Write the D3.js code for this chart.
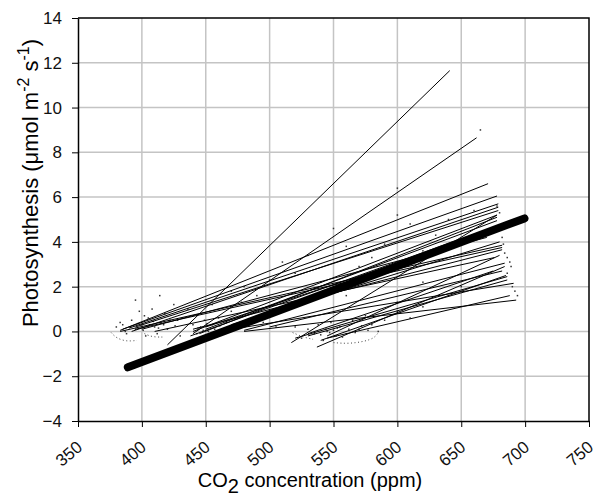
<!DOCTYPE html>
<html>
<head>
<meta charset="utf-8">
<script src="https://cdn.jsdelivr.net/npm/d3@7"></script>
<style>
  body { margin: 0; background: #fff; }
  svg { font-family: Arial, "Liberation Sans", sans-serif; }
  .grid line { stroke: #c4c4c4; stroke-width: 1.5; }
  .axis text { font-size: 17px; fill: #111; }
  .axis path, .axis line { stroke: #000; }
</style>
</head>
<body>
<div id="chart"></div>
<script>
'use strict'

// x ticks / y ticks
const xTicks = [350, 400, 450, 500, 550, 600, 650, 700, 750]
const yTicks = [-4, -2, 0, 2, 4, 6, 8, 10, 12, 14]

// mean regression (thick line)
const meanLine = [[389, -1.6], [699.5, 5.05]]

// individual regressions: x1, y1, x2, y2
const fitLines = [
  [420, -0.6, 641, 11.65],
  [440, -0.1, 662, 8.65],
  [383, 0.05, 671, 6.6],
  [385, 0.1, 678, 6.05],
  [390, 0.15, 679, 5.7],
  [392, 0.0, 679, 5.55],
  [395, 0.2, 679, 5.4],
  [440, 0.0, 678, 5.2],
  [445, -0.1, 678, 5.1],
  [450, 0.1, 678, 4.95],
  [438, -0.2, 680, 4.75],
  [517, -0.5, 678, 5.2],
  [383, 0.0, 682, 3.85],
  [395, 0.1, 682, 3.75],
  [440, 0.1, 682, 3.65],
  [480, 0.05, 684, 3.05],
  [537, -0.7, 684, 2.9],
  [540, -0.4, 685, 2.5],
  [520, -0.3, 686, 2.45],
  [530, -0.2, 686, 2.3],
  [460, 0.0, 691, 2.15],
  [545, -0.3, 688, 1.6],
  [480, 0.0, 693, 1.4],
  [400, 0.1, 670, 4.2],
  [450, 0.2, 675, 4.45],
  [470, 0.3, 680, 4.0],
  [545, -0.2, 680, 3.4],
  [530, -0.1, 675, 2.7],
  [410, 0.0, 676, 3.3],
  [500, 0.2, 682, 2.7]
]

// raw measurements (small dots)
const points = [
  [380, 0.2], [385, 0.3], [388, -0.1], [392, 0.5], [395, 0.1], [398, 0.9], [400, 0.3],
  [403, -0.2], [405, 0.6], [408, 1.0], [410, 0.2], [412, -0.1], [415, 0.4], [418, 0.8],
  [420, 0.1], [425, 1.2], [428, 0.5], [430, -0.2], [395, 1.4], [402, 0.7],
  [383, 0.4], [387, 0.0], [391, 0.2], [397, 0.35], [401, 0.05], [406, 0.3], [409, 0.45],
  [413, 0.15], [417, 0.3], [422, 0.5], [426, 0.25], [432, 0.6], [436, 1.0], [414, 1.6],
  [440, 0.3], [443, -0.1], [446, 0.2], [449, 0.5], [452, 0.0], [455, 0.3], [458, -0.2],
  [460, 0.6], [463, 0.1], [466, 0.4], [470, 0.9], [475, 0.2], [478, 1.3], [485, 0.5],
  [490, 1.6], [470, 1.8], [455, 1.2], [444, 0.15], [448, 0.05], [451, 0.35], [457, 0.1],
  [461, 0.25], [468, 0.15], [473, 0.55], [482, 0.3], [495, 0.4], [505, 0.2],
  [520, 0.2], [525, -0.3], [530, 0.1], [535, -0.1], [538, 0.3], [542, -0.4], [545, 0.0],
  [548, 0.4], [552, -0.2], [555, 0.2], [560, -0.1], [565, 0.5], [570, 0.1], [575, 0.7],
  [580, 0.3], [585, 0.0], [590, 0.5], [600, 0.9], [610, 0.6], [620, 1.1],
  [540, -0.15], [544, 0.1], [547, -0.05], [550, 0.05], [553, 0.15], [557, -0.25],
  [562, 0.1], [567, -0.05], [572, 0.25], [577, 0.05],
  [500, 2.3], [510, 3.1], [520, 2.6], [530, 3.4], [540, 2.2], [550, 4.6], [560, 3.8],
  [570, 2.9], [580, 3.3], [590, 3.9], [600, 6.4], [610, 4.8], [620, 3.6], [630, 4.3],
  [640, 5.0], [650, 4.1], [660, 5.4], [665, 9.0], [675, 4.5], [680, 5.3], [682, 4.2],
  [684, 3.5], [686, 2.6], [688, 3.1], [690, 2.0], [692, 1.8], [694, 1.6], [650, 2.0],
  [640, 1.6], [620, 2.2], [600, 1.3], [560, 1.6], [520, 1.1], [500, 0.8], [600, 5.2],
  [480, 2.0], [680, 4.7], [683, 3.9], [686, 3.3], [689, 2.9], [678, 5.6]
]

// dotted response curves
const curves = [
  [[376, -0.05], [380, -0.3], [388, -0.45], [396, -0.4]],
  [[402, -0.1], [408, -0.25], [416, -0.25]],
  [[518, -0.05], [526, -0.25], [534, -0.35]],
  [[550, -0.5], [562, -0.55], [574, -0.45], [582, -0.3], [585, -0.05]]
]

const width = 602
const height = 496
const margin = { top: 18, right: 13, bottom: 75, left: 78 }

const svg = d3.select('#chart')
  .append('svg')
  .attr('width', width)
  .attr('height', height)

const x = d3.scaleLinear().domain([350, 750]).range([margin.left, width - margin.right])
const y = d3.scaleLinear().domain([-4, 14]).range([height - margin.bottom, margin.top])

// grid
const grid = svg.append('g').attr('class', 'grid')
grid.selectAll('line.gx')
  .data(xTicks.slice(1, -1))
  .enter()
  .append('line')
  .attr('x1', d => x(d)).attr('x2', d => x(d))
  .attr('y1', y(-4)).attr('y2', y(14))
grid.selectAll('line.gy')
  .data(yTicks.slice(1, -1))
  .enter()
  .append('line')
  .attr('x1', x(350)).attr('x2', x(750))
  .attr('y1', d => y(d)).attr('y2', d => y(d))

// frame top / right
svg.append('path')
  .attr('d', `M${x(350)},${y(14)}H${x(750)}V${y(-4)}`)
  .attr('fill', 'none')
  .attr('stroke', '#000')
  .attr('stroke-width', 1.5)

// dotted curves
const line = d3.line().x(d => x(d[0])).y(d => y(d[1])).curve(d3.curveBasis)
svg.selectAll('path.curve')
  .data(curves)
  .enter()
  .append('path')
  .attr('class', 'curve')
  .attr('d', line)
  .attr('fill', 'none')
  .attr('stroke', '#444')
  .attr('stroke-width', 1)
  .attr('stroke-dasharray', '1,2.5')

// dots
svg.selectAll('rect.pt')
  .data(points)
  .enter()
  .append('rect')
  .attr('x', d => x(d[0]) - 0.75)
  .attr('y', d => y(d[1]) - 0.75)
  .attr('width', 1.5)
  .attr('height', 1.5)
  .attr('fill', '#333')

// regression lines
svg.selectAll('line.fit')
  .data(fitLines)
  .enter()
  .append('line')
  .attr('x1', d => x(d[0])).attr('y1', d => y(d[1]))
  .attr('x2', d => x(d[2])).attr('y2', d => y(d[3]))
  .attr('stroke', '#000')
  .attr('stroke-width', 1)

svg.append('path')
  .attr('d', d3.line().x(d => x(d[0])).y(d => y(d[1]))(meanLine))
  .attr('stroke', '#000')
  .attr('stroke-width', 8)
  .attr('stroke-linecap', 'round')

// axes
const xAxis = svg.append('g')
  .attr('class', 'axis')
  .attr('transform', `translate(0,${y(-4)})`)
  .call(d3.axisBottom(x).tickValues(xTicks).tickSize(6).tickSizeOuter(0))
xAxis.select('.domain').attr('stroke-width', 1.5)
xAxis.selectAll('text')
  .attr('text-anchor', 'end')
  .attr('y', 0)
  .attr('dy', 0)
  .attr('transform', 'translate(5,28) rotate(-40)')

const yAxis = svg.append('g')
  .attr('class', 'axis')
  .attr('transform', `translate(${x(350)},0)`)
  .call(d3.axisLeft(y).tickValues(yTicks).tickSize(6).tickSizeOuter(0).tickPadding(10))
yAxis.select('.domain').attr('stroke-width', 1.5)

// titles
const xt = svg.append('text')
  .attr('x', 310)
  .attr('y', 487)
  .attr('text-anchor', 'middle')
  .attr('font-size', 20)
xt.append('tspan').text('CO')
xt.append('tspan').attr('dy', 6).text('2')
xt.append('tspan').attr('dy', -6).text(' concentration (ppm)')

const yt = svg.append('text')
  .attr('transform', 'translate(38,183) rotate(-90)')
  .attr('text-anchor', 'middle')
  .attr('font-size', 22)
yt.append('tspan').text('Photosynthesis (\u03bcmol m')
yt.append('tspan').attr('font-size', 16).attr('dy', -9).text('-2')
yt.append('tspan').attr('dy', 9).text(' s')
yt.append('tspan').attr('font-size', 16).attr('dy', -9).text('-1')
yt.append('tspan').attr('dy', 9).text(')')
</script>
</body>
</html>
